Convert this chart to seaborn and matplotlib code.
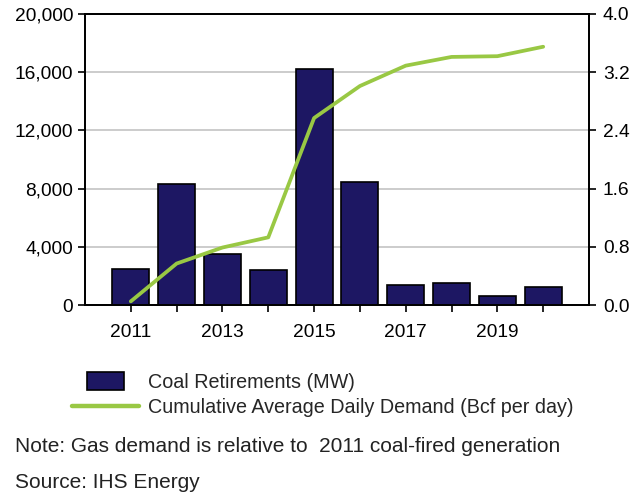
import matplotlib
matplotlib.use("Agg")
import matplotlib.pyplot as plt
import seaborn as sns
import pandas as pd
from matplotlib.patches import Rectangle
from matplotlib.legend_handler import HandlerPatch
from matplotlib.lines import Line2D

years = [2011, 2012, 2013, 2014, 2015, 2016, 2017, 2018, 2019, 2020]
coal_retirements = [2500, 8300, 3500, 2400, 16200, 8450, 1370, 1490, 640, 1260]
gas_demand = [0.05, 0.57, 0.79, 0.93, 2.57, 3.01, 3.29, 3.41, 3.42, 3.55]
left_ticks = [0, 4000, 8000, 12000, 16000, 20000]
right_ticks = [0.0, 0.8, 1.6, 2.4, 3.2, 4.0]

bar_label = "Coal Retirements (MW)"
line_label = "Cumulative Average Daily Demand (Bcf per day)"
note = "Note: Gas demand is relative to  2011 coal-fired generation"
source = "Source: IHS Energy"

BAR_COLOR = "#1d1763"
LINE_COLOR = "#99c844"
TICK_FS = 13.8
LEG_FS = 14.2
NOTE_FS = 15.0

sns.set_style("white")
plt.rcParams["font.family"] = ["Liberation Sans", "DejaVu Sans"]

df = pd.DataFrame({"year": years, "coal": coal_retirements, "gas": gas_demand})

fig = plt.figure(figsize=(6.35, 4.96), dpi=100)
ax = fig.add_axes([85 / 635, 1 - 305 / 496, (589 - 85) / 635, (305 - 14) / 496])

sns.barplot(data=df, x="year", y="coal", native_scale=True, color=BAR_COLOR,
            edgecolor="black", linewidth=1.2, saturation=1, width=0.81, ax=ax, zorder=2)
ax.set_xlim(2010, 2021)
ax.set_ylim(0, 20000)
ax.set_yticks(left_ticks)
ax.set_yticklabels([f"{v:,}" for v in left_ticks])
ax.set_xticks(years)
ax.set_xticklabels([str(y) if (y - 2011) % 2 == 0 else "" for y in years])
ax.grid(axis="y", color="#c4c4c4", linewidth=1.2, zorder=0)
ax.set_axisbelow(True)
ax.set_xlabel("")
ax.set_ylabel("")
ax.tick_params(axis="both", labelsize=TICK_FS, colors="black", length=5, width=1.2,
               direction="out", left=True, bottom=True)
ax.tick_params(axis="x", pad=9)
for s in ax.spines.values():
    s.set_visible(True)
    s.set_color("black")
    s.set_linewidth(1.3)

ax2 = ax.twinx()
sns.lineplot(data=df, x="year", y="gas", color=LINE_COLOR, linewidth=2.7, ax=ax2)
ax2.set_ylim(0, 4.0)
ax2.set_yticks(right_ticks)
ax2.set_yticklabels([f"{v:.1f}" for v in right_ticks])
ax2.set_ylabel("")
ax2.set_xlabel("")
ax2.tick_params(axis="y", labelsize=TICK_FS, colors="black", length=5, width=1.2,
                direction="out", right=True, pad=5)
for s in ax2.spines.values():
    s.set_visible(True)
    s.set_color("black")
    s.set_linewidth(1.3)


def small_rect(legend, orig_handle, xdescent, ydescent, width, height, fontsize):
    w = width * 0.55
    h = height * 1.3
    return Rectangle((xdescent + (width - w) / 2, ydescent - (h - height) / 2), w, h)


bar_handle = Rectangle((0, 0), 1, 1, facecolor=BAR_COLOR, edgecolor="black", linewidth=1.2)
line_handle = Line2D([], [], color=LINE_COLOR, linewidth=3.2)
fig.legend([bar_handle, line_handle], [bar_label, line_label],
           loc="upper left", bbox_to_anchor=(72 / 635, 1 - 373 / 496),
           frameon=False, fontsize=LEG_FS, handlelength=3.4, handletextpad=0.46,
           labelspacing=0.3, borderaxespad=0, borderpad=0,
           handler_map={Rectangle: HandlerPatch(patch_func=small_rect)})

fig.text(15 / 635, 1 - 447 / 496, note, fontsize=NOTE_FS, color="#222222", va="center", ha="left")
fig.text(15 / 635, 1 - 482.5 / 496, source, fontsize=NOTE_FS, color="#222222", va="center", ha="left")

fig.savefig("out.png", dpi=100)
